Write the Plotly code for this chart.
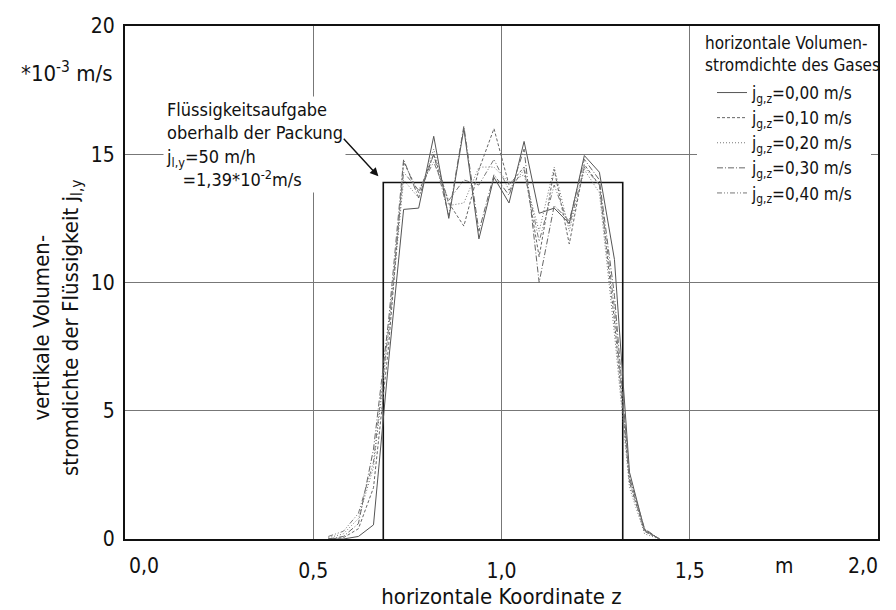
import plotly.graph_objects as go

# ---- data ----
z = [0.54, 0.58, 0.62, 0.66, 0.70, 0.74, 0.78, 0.82, 0.86, 0.90, 0.94, 0.98,
     1.02, 1.06, 1.10, 1.14, 1.18, 1.22, 1.26, 1.30, 1.34, 1.38, 1.42]

j_000 = [0.0, 0.0, 0.1, 0.55, 6.9, 12.85, 12.9, 15.7, 12.5, 16.0, 11.7, 14.1,
         13.1, 15.5, 12.7, 12.9, 12.3, 14.95, 14.3, 10.9, 2.6, 0.35, 0.0]
j_010 = [0.0, 0.05, 0.4, 2.0, 7.5, 14.7, 13.5, 15.0, 13.1, 12.2, 14.4, 16.0,
         13.8, 14.5, 11.0, 14.4, 11.5, 14.6, 13.8, 8.5, 2.2, 0.3, 0.0]
j_020 = [0.05, 0.2, 0.8, 2.8, 8.0, 14.0, 13.3, 15.2, 13.0, 13.1, 14.5, 14.5,
         13.9, 14.2, 12.0, 14.5, 12.0, 14.4, 13.5, 8.0, 2.0, 0.2, 0.0]
j_030 = [0.0, 0.1, 0.6, 3.5, 8.5, 14.8, 13.3, 15.0, 12.6, 16.1, 12.0, 14.2,
         13.4, 15.2, 10.0, 13.0, 12.4, 14.8, 14.0, 9.5, 2.4, 0.4, 0.0]
j_040 = [0.1, 0.3, 1.0, 3.0, 8.2, 14.3, 13.6, 14.7, 13.2, 14.0, 13.8, 14.8,
         13.6, 14.4, 11.6, 13.8, 12.2, 14.5, 13.8, 9.0, 2.3, 0.3, 0.0]

# liquid feed above the packing (step profile)
feed_z = [0.686, 0.686, 1.322, 1.322]
feed_j = [0.0, 13.9, 13.9, 0.0]

series_names = ["j<sub>g,z</sub>=0,00 m/s", "j<sub>g,z</sub>=0,10 m/s",
                "j<sub>g,z</sub>=0,20 m/s", "j<sub>g,z</sub>=0,30 m/s",
                "j<sub>g,z</sub>=0,40 m/s"]
series_vals = [j_000, j_010, j_020, j_030, j_040]
dashes = ["solid", "3px,2px", "1px,2px", "6px,2px,1px,2px", "5px,2px,1px,2px,1px,2px"]
colors = ["#555555", "#666666", "#777777", "#666666", "#777777"]

x_ticks = [0.0, 0.5, 1.0, 1.5, 2.0]
x_ticklabels = ["0,0", "0,5", "1,0", "1,5", "2,0"]
y_ticks = [0, 5, 10, 15, 20]

FONT = "DejaVu Sans Condensed, Liberation Sans Narrow, Roboto, sans-serif"

fig = go.Figure()

fig.add_trace(go.Scatter(x=feed_z, y=feed_j, mode="lines",
                         line=dict(color="#111111", width=1.6),
                         showlegend=False, hoverinfo="skip"))

for name, vals, d, c in zip(series_names, series_vals, dashes, colors):
    fig.add_trace(go.Scatter(x=z, y=vals, mode="lines", name=name,
                             line=dict(color=c, width=1, dash=d)))

fig.update_layout(
    width=896, height=610,
    margin=dict(l=125, r=18, t=26, b=71, autoexpand=False),
    paper_bgcolor="white", plot_bgcolor="white",
    font=dict(family=FONT, size=21, color="#111111"),
    separators=",.",
    xaxis=dict(range=[0, 2], tickvals=x_ticks[1:-1], ticktext=x_ticklabels[1:-1],
               showgrid=True, gridcolor="#777777", gridwidth=1,
               showline=True, linecolor="#111111", linewidth=2, mirror=True,
               ticks="", zeroline=False, ticklabelstandoff=12, automargin=False,
               title=dict(text="horizontale Koordinate z", standoff=6,
                          font=dict(size=22))),
    yaxis=dict(range=[0, 20], tickvals=y_ticks,
               showgrid=True, gridcolor="#777777", gridwidth=1,
               showline=True, linecolor="#111111", linewidth=2, mirror=True,
               ticks="", zeroline=False, ticklabelstandoff=4, automargin=False),
    legend=dict(x=(712 - 125) / 753, y=(539 - 75) / 513, xanchor="left", yanchor="top",
                bgcolor="rgba(0,0,0,0)", borderwidth=0,
                font=dict(size=17), tracegroupgap=0),
)

# end tick labels of the x axis, kept inside the frame as in the reference
fig.add_annotation(xref="x", yref="paper", x=x_ticks[0], y=-(566 - 539) / 513,
                   text=x_ticklabels[0], showarrow=False, font=dict(size=21),
                   xanchor="left", yanchor="middle", xshift=2)
fig.add_annotation(xref="x", yref="paper", x=x_ticks[-1], y=-(566 - 539) / 513,
                   text=x_ticklabels[-1], showarrow=False, font=dict(size=21),
                   xanchor="right", yanchor="middle", xshift=2)

# white box behind the legend
fig.add_shape(type="rect", xref="paper", yref="paper",
              x0=(697 - 125) / 753, x1=(871 - 125) / 753,
              y0=(539 - 250) / 513, y1=(539 - 28) / 513,
              fillcolor="white", line=dict(width=0), layer="above")

# legend heading
fig.add_annotation(xref="paper", yref="paper", x=(703 - 125) / 753, y=(539 - 54) / 513,
                   text="horizontale Volumen-<br>stromdichte des Gases",
                   align="left", showarrow=False, font=dict(size=17),
                   xanchor="left", yanchor="middle")

# y-axis title (two lines, rotated)
fig.add_annotation(xref="paper", yref="paper", x=-(125 - 57) / 753, y=(539 - 328) / 513,
                   text="vertikale Volumen-<br>stromdichte der Flüssigkeit j<sub>l,y</sub>",
                   textangle=-90, showarrow=False, font=dict(size=22),
                   xanchor="center", yanchor="middle")
# unit at top-left
fig.add_annotation(xref="paper", yref="paper", x=-(125 - 66) / 753, y=(539 - 72) / 513,
                   text="*10<sup>-3</sup> m/s", showarrow=False, font=dict(size=22),
                   xanchor="center", yanchor="middle")
# x unit
fig.add_annotation(xref="x", yref="paper", x=1.75, y=-(566 - 539) / 513,
                   text="m", showarrow=False, font=dict(size=21),
                   xanchor="center", yanchor="middle")

# annotation text for the feed
fig.add_annotation(xref="paper", yref="paper", x=(163 - 125) / 753, y=(539 - 96) / 513,
                   text="Flüssigkeitsaufgabe<br>oberhalb der Packung<br>"
                        "j<sub>l,y</sub>=50 m/h<br>   =1,39*10<sup>-2</sup>m/s",
                   align="left", showarrow=False, font=dict(size=18),
                   xanchor="left", yanchor="top", bgcolor="white", borderpad=2)
# arrow
fig.add_annotation(x=0.673, y=14.14, xref="x", yref="y", text="",
                   showarrow=True, arrowhead=2, arrowsize=1.2, arrowwidth=1.4,
                   arrowcolor="#111111", ax=-36, ay=-39)

fig.write_html("out.html")
